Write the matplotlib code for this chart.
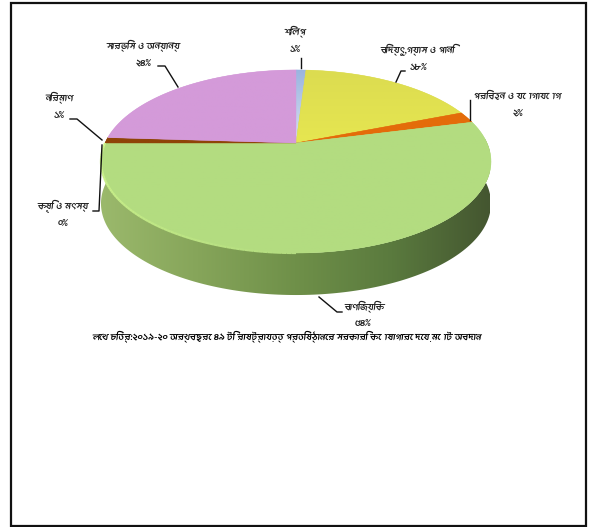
import numpy as np
import matplotlib
matplotlib.use('Agg')
from matplotlib import pyplot as plt
from matplotlib import font_manager as fm
from matplotlib.collections import LineCollection
from matplotlib.colors import LinearSegmentedColormap, to_rgb
from matplotlib.patches import Polygon, Rectangle

# sectors run clockwise from twelve o'clock
names = ['শিল্প', 'বিদ্যুৎ,গ্যাস ও পানি', 'পরিবহন ও যোগাযোগ', 'বাণিজ্যিক',
         'কৃষি ও মৎস্য', 'নির্মাণ', 'সার্ভিস ও অন্যান্য']
shares = [1, 18, 2, 54, 0, 1, 24]
colors_back = ['#9ab4e0', '#dcdc50', '#e46c0a', '#b3dc80', '#9bbb59', '#8f4408', '#d49ad9']
colors_front = ['#d8e0f0', '#e6e650', '#e46c0a', '#b3dc80', '#9bbb59', '#8f4408', '#d49ad9']
caption = 'লেখ চিত্র:২০১৯-২০ অর্থবছরে ৪৯ টি রাষ্ট্রায়ত্ত প্রতিষ্ঠানের সরকারি কোষাগারে দেয় মোট অবদান'

label_xy = [(295, 32), (418, 50), (518, 96), (365, 307), (63, 206), (60, 98), (144, 46)]
pct_xy = [(295, 50), (418, 67), (518, 113), (363, 324), (63, 224), (59, 115), (144, 63)]
leaders = [
    [(301, 58), (301, 68)],
    [(405, 71), (401, 71), (396, 82)],
    [(470, 100), (470, 120)],
    [(319, 297), (337, 312), (342, 312)],
    [(93, 211), (99, 211), (102, 145)],
    [(70, 119), (77, 119), (102, 140)],
    [(158, 66), (165, 66), (178, 87)],
]

# pick up whichever installed family has Bengali glyphs
have_bengali = []
for f in fm.fontManager.ttflist:
    try:
        if 0x0995 in fm.get_font(f.fname).get_charmap():
            have_bengali.append(f.name)
    except Exception:
        pass
plt.rcParams['font.family'] = sorted(set(have_bengali)) + ['DejaVu Sans']


def project(theta, lift=0.0):
    # tilted disc seen in perspective: back rim y=70, front rim y=253, hub y=143
    u, v = np.sin(theta), -np.cos(theta)
    d = 1 - 0.202 * v
    return 296 + 191 * u / d, 143 + 87.8 * v / d + lift


fig = plt.figure(figsize=(5.89, 5.27), dpi=100)
ax = fig.add_axes([0, 0, 1, 1])
ax.set_xlim(0, 589)
ax.set_ylim(527, 0)
ax.axis('off')

# outer frame
ax.add_patch(Rectangle((11, 2.5), 575, 523, fill=False, ec='#111111', lw=1.6))

# side wall of the disc
t = np.linspace(np.pi / 2 - 0.05, 3 * np.pi / 2 + 0.05, 200)
tx, ty = project(t)
bx, by = project(t, 42)
wall = Polygon(np.r_[np.c_[tx, ty], np.c_[bx, by][::-1]], fc='none', ec='none')
ax.add_patch(wall)
wall_cmap = LinearSegmentedColormap.from_list(
    'wall', ['#445630', '#5a7a3e', '#6f9049', '#86a55a', '#9bb96c'])
grad = ax.imshow(np.linspace(0, 1, 256)[None, :], extent=(490, 100, 300, 120),
                 cmap=wall_cmap, aspect='auto', zorder=2)
grad.set_clip_path(wall)

# top face, one polygon per sector with a back-to-front shade
edges = np.cumsum([0] + shares) / sum(shares) * 2 * np.pi
for i, share in enumerate(shares):
    if share == 0:
        continue
    arc = np.linspace(edges[i], edges[i + 1], 120)
    ax_, ay_ = project(arc)
    pts = np.r_[[[296, 143]], np.c_[ax_, ay_]]
    patch = Polygon(pts, fc=colors_back[i], ec=colors_back[i], lw=0.3, zorder=3)
    ax.add_patch(patch)
    cmap = LinearSegmentedColormap.from_list('s%d' % i, [colors_back[i], colors_front[i]])
    im = ax.imshow(np.linspace(0, 1, 64)[:, None], extent=(pts[:, 0].min(), pts[:, 0].max(), pts[:, 1].max(), pts[:, 1].min()),
                   cmap=cmap, aspect='auto', zorder=3)
    im.set_clip_path(patch)
ax.set_xlim(0, 589)
ax.set_ylim(527, 0)

# light rim on the front left of the disc
arc = np.linspace(3 * np.pi / 2, np.pi, 80)
rx, ry = project(arc)
segs = np.stack([np.c_[rx[:-1], ry[:-1]], np.c_[rx[1:], ry[1:]]], axis=1)
c0, c1 = np.array(to_rgb('#cff58c')), np.array(to_rgb('#b3dc80'))
mix = np.linspace(0, 1, len(segs))[:, None]
ax.add_collection(LineCollection(segs, colors=c0 * (1 - mix) + c1 * mix, lw=1.6, zorder=4))

# labels and leader lines
bn_digits = str.maketrans('0123456789', '০১২৩৪৫৬৭৮৯')
for i, name in enumerate(names):
    ax.text(*label_xy[i], name, ha='center', va='center', fontsize=7.2, color='#222222', zorder=6)
    ax.text(*pct_xy[i], str(shares[i]).translate(bn_digits) + '%', ha='center', va='center',
            fontsize=7.2, color='#222222', zorder=6)
    xs, ys = zip(*leaders[i])
    ax.plot(xs, ys, color='#111111', lw=1, zorder=5)

ax.text(287, 337, caption, ha='center', va='center', fontsize=7, fontweight='bold', color='black')

fig.savefig('out.png', dpi=100)
